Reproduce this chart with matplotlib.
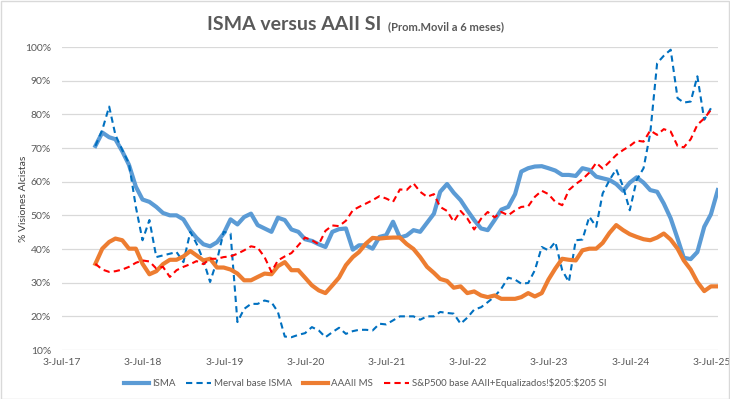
import numpy as np
import pandas as pd
import matplotlib
matplotlib.use("Agg")
import matplotlib.pyplot as plt
from matplotlib.patches import Rectangle

plt.rcParams['font.family'] = ['Lato', 'DejaVu Sans']

# monthly 6-month moving averages, Nov-2017 .. Jul-2025
fechas = pd.date_range('2017-11-30', periods=93, freq='ME')

isma = [70.6, 74.6, 73.2, 72.6, 69.0, 65.0, 58.5, 54.7, 54.0, 52.5,
        50.7, 50.0, 50.0, 48.8, 45.5, 43.3, 41.4, 40.8, 42.0, 44.6,
        48.8, 47.3, 49.5, 50.5, 47.1, 46.1, 45.1, 49.3, 48.6, 45.8,
        45.1, 42.9, 42.4, 41.4, 40.6, 45.1, 45.9, 46.1, 39.8, 41.1,
        41.1, 40.1, 43.6, 44.1, 48.1, 43.4, 44.0, 45.6, 45.1, 47.8,
        50.5, 57.0, 59.3, 56.7, 54.5, 51.5, 48.6, 46.1, 45.6, 48.6,
        51.7, 52.5, 56.3, 63.0, 64.0, 64.5, 64.6, 64.0, 63.3, 62.0,
        62.0, 61.7, 64.0, 63.5, 61.5, 61.0, 60.5, 59.3, 57.3, 59.7,
        61.3, 59.7, 57.5, 57.0, 53.5, 49.1, 43.1, 37.4, 37.0, 39.1,
        46.6, 50.3, 57.5]

merval = [70.6, 75.4, 82.3, 73.9, 69.4, 65.4, 52.5, 42.6, 48.6, 37.6,
          38.1, 38.6, 39.1, 36.1, 45.1, 41.6, 36.6, 30.2, 36.6, 45.1,
          44.6, 18.3, 22.2, 23.7, 23.7, 24.7, 24.2, 21.3, 14.0, 13.8,
          14.5, 15.0, 16.8, 15.8, 13.8, 15.3, 16.6, 14.8, 15.6, 16.0,
          16.0, 15.8, 17.8, 17.6, 18.8, 20.0, 20.0, 20.0, 19.0, 20.0,
          20.0, 21.3, 21.0, 20.8, 17.8, 19.6, 22.0, 22.7, 24.2, 25.9,
          28.2, 31.5, 30.9, 29.7, 29.9, 33.7, 40.6, 39.6, 42.1, 33.7,
          30.2, 42.6, 42.8, 49.6, 46.6, 56.5, 60.5, 63.7, 58.5, 51.5,
          60.5, 64.0, 74.4, 95.2, 97.4, 99.2, 84.8, 83.5, 83.8, 91.3,
          78.4, 81.8, np.nan]

aaii_ms = [35.6, 40.1, 42.1, 43.1, 42.6, 40.1, 40.1, 35.6, 32.5, 33.4,
           35.5, 36.8, 36.8, 37.8, 39.4, 38.1, 36.6, 37.1, 34.5, 34.5,
           33.9, 32.7, 30.7, 30.7, 31.7, 32.7, 32.5, 34.9, 36.1, 33.7,
           33.7, 31.5, 29.2, 27.7, 26.9, 29.2, 31.5, 35.2, 37.6, 39.1,
           41.6, 43.3, 43.1, 43.3, 43.4, 43.4, 41.5, 40.0, 37.6, 34.7,
           32.9, 31.1, 30.5, 28.5, 28.9, 26.9, 27.4, 26.2, 25.7, 26.2,
           25.2, 25.2, 25.2, 25.7, 26.9, 25.9, 26.9, 30.9, 34.2, 37.1,
           36.8, 36.6, 39.6, 40.1, 40.1, 41.8, 44.8, 47.1, 45.6, 44.4,
           43.6, 42.9, 42.6, 43.4, 44.6, 42.8, 40.1, 36.6, 33.9, 30.2,
           27.5, 28.9, 28.9]

sp500 = [35.6, 33.9, 33.2, 33.4, 33.9, 34.7, 35.9, 36.6, 36.3, 34.2,
         34.7, 31.7, 33.7, 34.7, 35.5, 36.4, 35.5, 37.1, 37.1, 37.6,
         37.8, 38.6, 39.6, 40.8, 40.4, 37.6, 33.2, 36.6, 37.8, 38.8,
         41.1, 43.4, 42.6, 41.4, 45.4, 47.0, 46.8, 48.4, 51.5, 52.5,
         53.5, 54.5, 55.7, 55.0, 54.0, 57.7, 57.5, 59.5, 57.0, 55.5,
         56.3, 52.5, 51.3, 48.1, 51.3, 49.1, 45.8, 49.0, 51.0, 49.4,
         51.0, 50.0, 51.5, 52.5, 52.7, 55.5, 57.3, 56.3, 54.0, 53.0,
         57.5, 59.3, 60.7, 62.7, 65.6, 63.9, 65.9, 67.9, 69.4, 70.6,
         72.2, 71.9, 75.2, 73.9, 75.6, 74.9, 70.6, 70.2, 72.6, 76.9,
         78.8, 81.3, np.nan]

tick_fechas = pd.to_datetime(['2017-07-03', '2018-07-03', '2019-07-03', '2020-07-03',
                              '2021-07-03', '2022-07-03', '2023-07-03', '2024-07-03',
                              '2025-07-03'])
tick_labels = ['3-Jul-17', '3-Jul-18', '3-Jul-19', '3-Jul-20', '3-Jul-21',
               '3-Jul-22', '3-Jul-23', '3-Jul-24', '3-Jul-25']
y_ticks = [10, 20, 30, 40, 50, 60, 70, 80, 90, 100]

gris = '#595959'

fig = plt.figure(figsize=(7.3, 3.99), dpi=100)
ax = fig.add_axes([0.085, 0.1228, 0.8986, 0.7594])

ax.plot(fechas, isma, color='#5B9BD5', lw=3.0, label='ISMA', solid_joinstyle='round')
ax.plot(fechas, merval, color='#0070C0', lw=1.5, ls=(0, (3, 2)), label='Merval base ISMA')
ax.plot(fechas, aaii_ms, color='#ED7D31', lw=3.0, label='AAAII MS', solid_joinstyle='round')
ax.plot(fechas, sp500, color='#FF0000', lw=1.5, ls=(0, (3, 2)),
        label='S&P500 base AAII+Equalizados!\\$205:\\$205 SI')

ax.set_ylim(10, 100)
ax.set_yticks(y_ticks)
ax.set_yticklabels([f'{v}%' for v in y_ticks])
ax.set_xlim(pd.Timestamp('2017-07-03'), pd.Timestamp('2025-08-01'))
ax.set_xticks(tick_fechas)
ax.set_xticklabels(tick_labels)

ax.grid(axis='y', color='#d9d9d9', lw=0.9)
ax.set_axisbelow(True)
for s in ax.spines.values():
    s.set_visible(False)
ax.tick_params(length=0, labelsize=7.5, colors=gris)
ax.tick_params(axis='y', pad=8)
ax.tick_params(axis='x', pad=6)
ax.set_ylabel('% Visiones Alcistas', fontsize=7.5, color='#404040')
ax.yaxis.set_label_coords(-0.052, 0.5)

fig.text(0.523, 0.925, 'ISMA versus AAII SI', ha='right', va='baseline',
         fontsize=14, fontweight='bold', color=gris)
fig.text(0.532, 0.925, '(Prom.Movil a 6 meses)', ha='left', va='baseline',
         fontsize=8, fontweight='bold', color=gris)

fig.legend(loc='center', bbox_to_anchor=(0.5, 0.04), ncol=4, frameon=False,
           fontsize=7, labelcolor=gris,
           handlelength=2.6, columnspacing=1.1, handletextpad=0.3)

fig.patches.append(Rectangle((0.001, 0.001), 0.997, 0.997, transform=fig.transFigure,
                             fill=False, edgecolor='#d9d9d9', lw=1))

fig.savefig('out.png', dpi=100)
